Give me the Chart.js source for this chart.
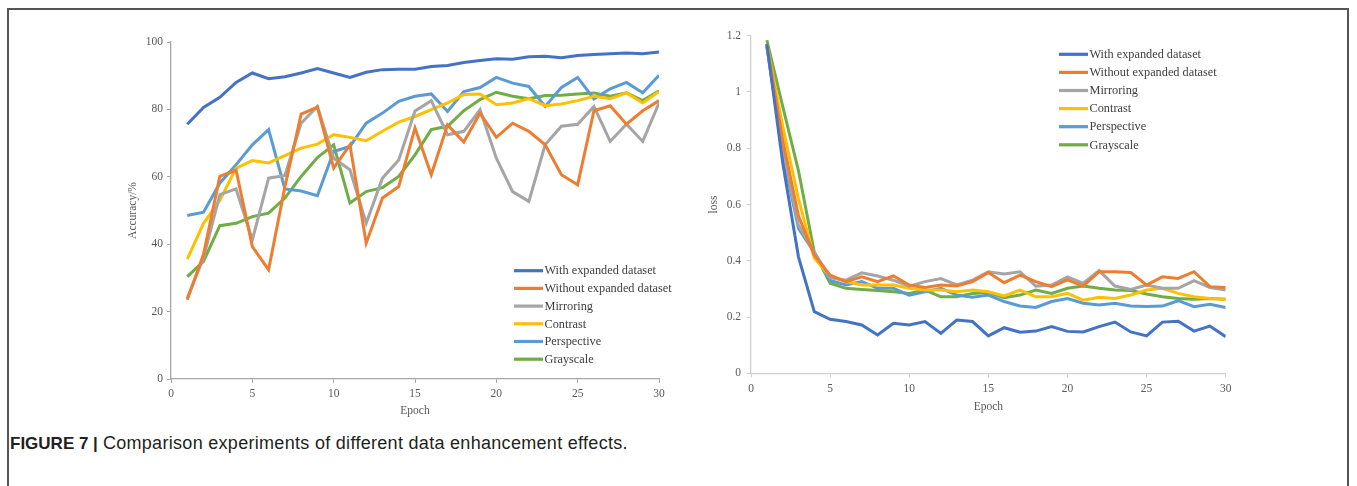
<!DOCTYPE html>
<html><head><meta charset="utf-8">
<script src="https://cdn.jsdelivr.net/npm/chart.js@4.4.0/dist/chart.umd.min.js"></script>
<style>
html,body{margin:0;padding:0;background:#fff;width:1357px;height:486px;overflow:hidden;}
#frame{position:absolute;left:7px;top:8px;width:1342px;height:600px;border:2px solid #555;box-sizing:border-box;}
#c1{position:absolute;left:0;top:0;}
#c2{position:absolute;left:700px;top:0;}
#cap{position:absolute;left:10px;top:433px;font-family:"Liberation Sans",Arial,sans-serif;font-size:18px;color:#231f20;white-space:nowrap;}
#cap b{font-weight:bold;font-size:17px;letter-spacing:0;}
#cap span{letter-spacing:0.3px;}
</style></head>
<body>
<div id="frame"></div>
<canvas id="c1" width="700" height="430"></canvas>
<canvas id="c2" width="657" height="430"></canvas>
<div id="cap"><b>FIGURE 7 |</b> <span>Comparison experiments of different data enhancement effects.</span></div>
<script>
const epochs = [1,2,3,4,5,6,7,8,9,10,11,12,13,14,15,16,17,18,19,20,21,22,23,24,25,26,27,28,29,30];
const seriesNames = ['With expanded dataset','Without expanded dataset','Mirroring','Contrast','Perspective','Grayscale'];
const seriesColors = ['#4472C4','#ED7D31','#A5A5A5','#FFC000','#5B9BD5','#70AD47'];

const accWith     = [75.6,80.6,83.6,88.0,90.8,89.1,89.7,90.8,92.1,90.8,89.5,91.0,91.8,91.9,91.9,92.7,93.0,93.9,94.5,95.0,94.9,95.6,95.8,95.3,96.0,96.3,96.5,96.7,96.5,97.0];
const accWithout  = [23.5,37.0,60.1,62.0,39.3,32.4,57.0,78.6,80.7,62.6,69.5,40.3,53.7,57.1,74.5,60.6,75.4,70.3,78.9,71.7,75.9,73.5,69.5,60.6,57.6,79.6,81.1,75.6,79.6,82.6];
const accMirror   = [24.0,36.0,54.7,56.4,41.3,59.6,60.4,75.9,80.9,65.5,62.1,46.2,59.6,65.0,79.5,82.6,72.5,73.5,79.9,65.5,55.6,52.7,69.5,75.0,75.6,80.9,70.5,75.6,70.5,81.9];
const accContrast = [35.6,46.2,53.0,62.6,64.8,64.1,66.3,68.5,69.7,72.5,71.7,70.7,73.5,76.2,77.9,79.9,81.9,84.4,84.6,81.4,81.9,83.2,81.1,81.6,82.6,83.9,83.2,84.9,81.9,85.3];
const accPersp    = [48.5,49.5,58.1,63.6,69.5,74.0,56.4,55.8,54.4,67.5,69.0,75.9,78.9,82.4,83.9,84.6,79.4,85.3,86.5,89.5,87.8,86.8,80.9,86.5,89.5,83.1,86.1,88.0,84.9,90.1];
const accGray     = [30.4,34.9,45.5,46.2,48.2,49.2,53.7,60.1,65.7,69.5,52.2,55.6,56.8,60.1,66.5,74.0,75.0,79.6,82.9,85.1,83.9,83.2,84.1,84.2,84.6,84.9,83.9,84.9,82.6,85.5];

const lossWith     = [1.17,0.75,0.414,0.219,0.192,0.184,0.172,0.136,0.178,0.172,0.184,0.142,0.189,0.184,0.133,0.162,0.146,0.150,0.166,0.149,0.147,0.166,0.182,0.147,0.133,0.182,0.185,0.150,0.168,0.130];
const lossWithout  = [1.17,0.83,0.56,0.42,0.349,0.326,0.343,0.326,0.346,0.314,0.305,0.314,0.310,0.326,0.358,0.322,0.349,0.326,0.308,0.332,0.310,0.361,0.361,0.358,0.314,0.343,0.337,0.361,0.308,0.305];
const lossMirror   = [1.16,0.80,0.527,0.43,0.340,0.331,0.357,0.346,0.331,0.310,0.326,0.337,0.314,0.331,0.361,0.353,0.361,0.310,0.314,0.343,0.320,0.365,0.310,0.298,0.314,0.302,0.302,0.329,0.305,0.296];
const lossContrast = [1.17,0.88,0.62,0.41,0.343,0.326,0.314,0.314,0.314,0.302,0.296,0.296,0.290,0.296,0.290,0.275,0.296,0.272,0.272,0.284,0.260,0.270,0.266,0.278,0.296,0.302,0.284,0.272,0.266,0.263];
const lossPersp    = [1.165,0.78,0.515,0.43,0.330,0.314,0.326,0.302,0.302,0.278,0.290,0.302,0.278,0.270,0.278,0.255,0.239,0.234,0.255,0.266,0.249,0.243,0.249,0.239,0.237,0.239,0.258,0.237,0.245,0.234];
const lossGray     = [1.184,0.95,0.72,0.43,0.320,0.302,0.298,0.294,0.290,0.284,0.296,0.272,0.272,0.284,0.287,0.269,0.278,0.296,0.284,0.302,0.310,0.302,0.296,0.294,0.282,0.272,0.266,0.263,0.266,0.263];

const epochTickValues = [0,5,10,15,20,25,30];
const epochTickLabels = ['0','5','10','15','20','25','30'];
const accTickValues = [0,20,40,60,80,100];
const accTickLabels = ['0','20','40','60','80','100'];
const lossTickValues = [0,0.2,0.4,0.6,0.8,1,1.2];
const lossTickLabels = ['0','0.2','0.4','0.6','0.8','1','1.2'];

const SERIF = '"Liberation Serif","Times New Roman",serif';

function makeDatasets(arrs){
  return arrs.map((a,i)=>({
    label: seriesNames[i],
    data: epochs.map((e,j)=>({x:e,y:a[j]})),
    borderColor: seriesColors[i],
    backgroundColor: seriesColors[i],
    borderWidth: 3,
    pointRadius: 0,
    tension: 0,
    fill: false
  }));
}

const legendPlugin = {
  id: 'customLegend',
  afterDraw(chart, args, o){
    const ctx = chart.ctx, ca = chart.chartArea;
    ctx.save();
    ctx.font = o.fontSize + 'px ' + SERIF;
    ctx.textBaseline = 'middle';
    ctx.textAlign = 'left';
    chart.data.datasets.forEach((ds,i)=>{
      const yy = ca.top + o.y + i*o.gap;
      const xx = ca.left + o.x;
      ctx.strokeStyle = ds.borderColor;
      ctx.lineWidth = 3.2;
      ctx.beginPath(); ctx.moveTo(xx,yy); ctx.lineTo(xx+o.len,yy); ctx.stroke();
      ctx.fillStyle = o.color;
      ctx.fillText(ds.label, xx+o.len+1.5, yy+0.5);
    });
    ctx.restore();
  }
};

function axisX(cfg){
  return {
    type:'linear', min:0, max:30,
    afterBuildTicks: s => { s.ticks = epochTickValues.map(v=>({value:v})); },
    afterFit: s => { s.height = cfg.h; },
    ticks:{ callback:(v,i)=>epochTickLabels[i], color:cfg.tc, font:{family:SERIF,size:11.5}, padding:cfg.tp, maxRotation:0, autoSkip:false },
    grid:{ drawOnChartArea:false, drawTicks:true, tickLength:4, color:cfg.ac, lineWidth:1 },
    border:{ display:true, color:cfg.ac, width:1.3 },
    title:{ display:true, text:'Epoch', color:cfg.tc, font:{family:SERIF,size:11.5}, padding:{top:0,bottom:cfg.titlePad} }
  };
}
function axisY(cfg){
  return {
    type:'linear', min:cfg.min, max:cfg.max,
    afterBuildTicks: s => { s.ticks = cfg.vals.map(v=>({value:v})); },
    afterFit: s => { s.width = cfg.w; },
    ticks:{ callback:(v,i)=>cfg.labels[i], color:cfg.tc, font:{family:SERIF,size:11.5}, padding:cfg.tp, autoSkip:false },
    grid:{ drawOnChartArea:false, drawTicks:true, tickLength:4, color:cfg.ac, lineWidth:1 },
    border:{ display:true, color:cfg.ac, width:1.3 },
    title:{ display:true, text:cfg.title, color:cfg.tc, font:{family:SERIF,size:11.5}, padding:{top:cfg.titlePad,bottom:0} }
  };
}

new Chart(document.getElementById('c1'), {
  type:'line',
  data:{ datasets: makeDatasets([accWith,accWithout,accMirror,accContrast,accPersp,accGray]) },
  options:{
    responsive:false, animation:false, devicePixelRatio:1,
    layout:{ padding:{ left:120, right:41, top:42, bottom:12 } },
    plugins:{ legend:{display:false}, tooltip:{enabled:false},
      customLegend:{ x:343, y:228.7, gap:17.7, len:29, fontSize:12.3, color:'#404040' } },
    scales:{
      x: axisX({h:39, tc:'#595959', ac:'#A6A6A6', tp:4, titlePad:0.4}),
      y: axisY({min:0,max:100,vals:accTickValues,labels:accTickLabels,w:51,tc:'#595959',ac:'#A6A6A6',tp:4,title:'Accuracy/%',titlePad:6.4})
    }
  },
  plugins:[legendPlugin]
});

new Chart(document.getElementById('c2'), {
  type:'line',
  data:{ datasets: makeDatasets([lossWith,lossWithout,lossMirror,lossContrast,lossPersp,lossGray]) },
  options:{
    responsive:false, animation:false, devicePixelRatio:1,
    layout:{ padding:{ left:4, right:131.3, top:35.7, bottom:16 } },
    plugins:{ legend:{display:false}, tooltip:{enabled:false},
      customLegend:{ x:308, y:18.6, gap:18.1, len:29, fontSize:12.3, color:'#404040' } },
    scales:{
      x: axisX({h:40.7, tc:'#595959', ac:'#D0D0D0', tp:5, titlePad:0.4}),
      y: axisY({min:0,max:1.2,vals:lossTickValues,labels:lossTickLabels,w:47,tc:'#595959',ac:'#D0D0D0',tp:6,title:'loss',titlePad:3.4})
    }
  },
  plugins:[legendPlugin]
});
</script>
</body></html>
